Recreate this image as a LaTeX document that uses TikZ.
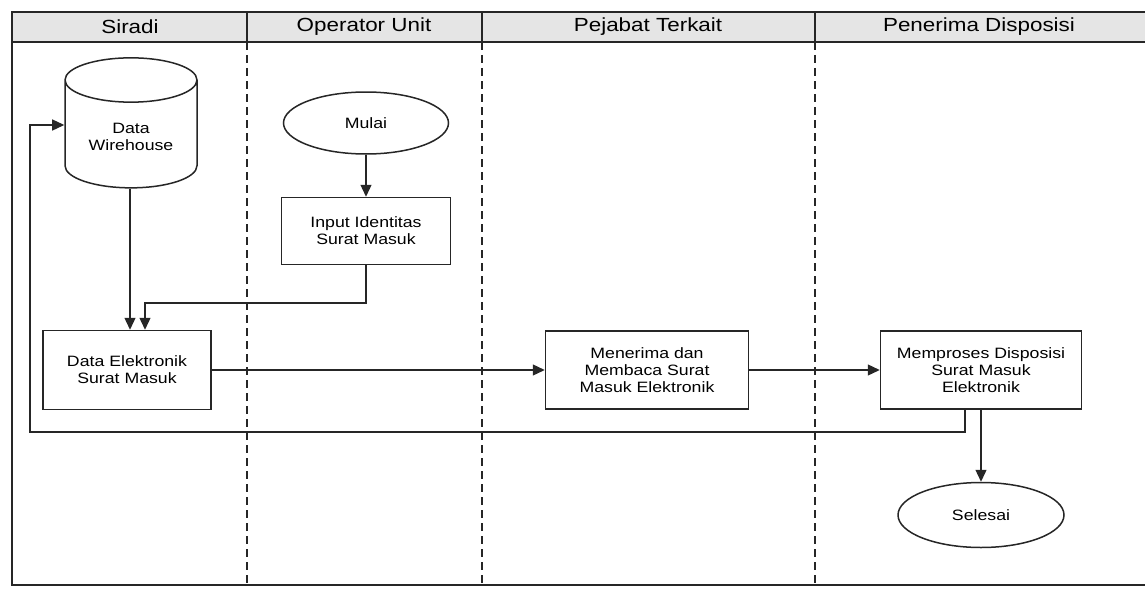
\documentclass[tikz,border=0pt]{standalone}
\usepackage{fontspec}
\setmainfont{Liberation Sans}[FakeStretch=1.18]
\usetikzlibrary{shapes.geometric,arrows.meta,positioning}

\tikzset{
    frame/.style={draw=black!85, line width=1.6pt},
    lane/.style={draw=black!85, line width=1.6pt, dash pattern=on 8pt off 5pt},
    lanehead/.style={font=\fontsize{19}{21}\selectfont},
    proc/.style={draw=black!85, line width=1.5pt, align=center, fill=white,
        font=\fontsize{15}{17}\selectfont, inner sep=2pt},
    term/.style={proc, ellipse},
    store/.style={proc, cylinder, shape border rotate=90, aspect=0.5},
    flow/.style={draw=black!85, line width=1.3pt, -{Triangle[length=12pt,width=11pt]}}
}

\begin{document}
\begin{tikzpicture}[x=1pt, y=-1pt]
    \useasboundingbox (0,0) rectangle (1145,594);

    % swimlanes
    \fill[gray!20] (12,12) rectangle (1150,42);
    \draw[frame] (1150,12) -- (12,12) -- (12,585) -- (1150,585);
    \draw[frame] (12,42) -- (1150,42);
    \foreach \x in {247,482,815} {
        \draw[frame] (\x,12) -- (\x,42);
        \draw[lane] (\x,42) -- (\x,585);
    }
    \foreach \x/\name [count=\i] in {130/Siradi, 364/Operator Unit, 648/Pejabat Terkait, 979/Penerima Disposisi}
        \node[lanehead] (head\i) at (\x,27) {\name};

    % nodes
    \node[store, minimum width=132pt, minimum height=130pt] (dw) at (131,137) {Data\\Wirehouse};
    \node[term, minimum width=165pt, minimum height=62pt] (mulai) at (366,123) {Mulai};
    \node[proc, minimum width=169pt, minimum height=67pt] (input) at (366,231) {Input Identitas\\Surat Masuk};
    \node[proc, minimum width=168pt, minimum height=79pt] (elek) at (127,370) {Data Elektronik\\Surat Masuk};
    \node[proc, minimum width=203pt, minimum height=78pt] (terima) at (647,370) {Menerima dan\\Membaca Surat\\Masuk Elektronik};
    \node[proc, minimum width=201pt, minimum height=78pt] (proses) at (981,370) {Memproses Disposisi\\Surat Masuk\\Elektronik};
    \node[term, minimum width=166pt, minimum height=65pt] (selesai) at (981,515) {Selesai};

    \coordinate (join) at (145,303);
    \coordinate (loop) at (30,432);
    \path (dw.center) ++(0,-12) coordinate (dwc);
    \coordinate (dwin) at (dwc -| dw.west);

    % connectors
    \draw[flow] (mulai) -- (input);
    \draw[flow] (dw.south -| 130,0) -- (elek.north -| 130,0);
    \draw[flow] (input.south) |- (join) -- (join |- elek.north);
    \draw[flow] (elek) -- (terima);
    \draw[flow] (terima) -- (proses);
    \draw[flow] (proses) -- (selesai);
    \draw[flow] ([xshift=-16pt]proses.south) |- (loop) |- (dwin);
\end{tikzpicture}
\end{document}
